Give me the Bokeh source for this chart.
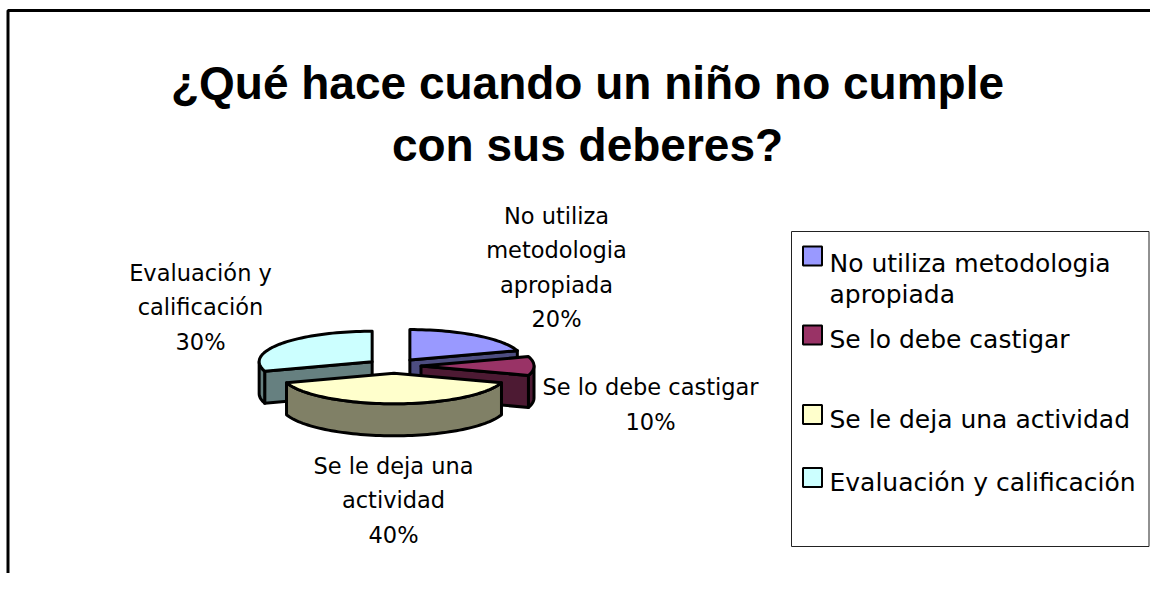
import numpy as np
from bokeh.plotting import figure
from bokeh.models import Range1d
from bokeh.core.properties import value
from bokeh.embed import file_html
from bokeh.resources import INLINE

# ---------------- data ----------------
title_lines = ["¿Qué hace cuando un niño no cumple", "con sus deberes?"]
categories = ["No utiliza metodologia apropiada", "Se lo debe castigar",
              "Se le deja una actividad", "Evaluación y calificación"]
values = [20, 10, 40, 30]
label_lines = [["No utiliza", "metodologia", "apropiada"],
               ["Se lo debe castigar"],
               ["Se le deja una", "actividad"],
               ["Evaluación y", "calificación"]]
legend_lines = [["No utiliza metodologia", "apropiada"],
                ["Se lo debe castigar"],
                ["Se le deja una actividad"],
                ["Evaluación y calificación"]]

# ---------------- styles / layout ----------------
top_colors = ["#9999FF", "#993366", "#FFFFCC", "#CCFFFF"]
side_colors = ["#4D4D80", "#4D1A33", "#808066", "#668080"]

W, H = 1150, 573
X0, Y0 = 1, 1
# pie geometry (pixels)
CX, CY = 394.5, 366.5
R, RY, DEPTH, EXPLODE = 113.0, 30.5, 32.0, 27.0
K = RY / R

# label anchors: (center x, first baseline, line spacing)
label_pos = [(557, 216, 34.5), (651, 387, 35), (394, 466, 34.5), (201, 273, 34.5)]
legend_box = (792, 232, 1149.5, 547)
legend_sq_y = [256.5, 335.5, 415, 478]
legend_text_y = [263.5, 339.5, 420, 483]
legend_line_h = 31.5

p = figure(width=W, height=H, output_backend="svg", toolbar_location=None,
           x_axis_type=None, y_axis_type=None,
           x_range=Range1d(X0, X0 + W), y_range=Range1d(Y0 + H, Y0),
           min_border=0, outline_line_color=None, background_fill_color="white",
           border_fill_color="white")

# frame (top and left edges of the chart area)
p.line(x=[8.5, 8.5, 1200], y=[620, 11, 11], line_color="black", line_width=3)

# title
p.text(x=[588, 588], y=[83, 145], text=title_lines,
       text_font=value("Liberation Sans"), text_font_style="bold",
       text_font_size="46px", text_align="center", text_baseline="alphabetic",
       text_color="black")


def proj(X, Z, lvl):
    X = np.asarray(X, dtype=float)
    Z = np.asarray(Z, dtype=float)
    lvl = np.asarray(lvl, dtype=float)
    return list(CX + X), list(CY - K * Z + DEPTH * lvl)


total = float(sum(values))
angles = np.concatenate([[0.0], np.cumsum(values)]) / total * 2 * np.pi
mids = (angles[:-1] + angles[1:]) / 2
order = sorted(range(len(values)), key=lambda i: -np.cos(mids[i]))

for i in order:
    t1, t2 = angles[i], angles[i + 1]
    mid = mids[i]
    ox, oz = EXPLODE * np.sin(mid), EXPLODE * np.cos(mid)
    xs_l, ys_l, cols = [], [], []
    # radial cut faces
    for t, vis in ((t1, np.sin(t1) < -1e-9), (t2, np.sin(t2) > 1e-9)):
        if vis:
            rx, rz = ox + R * np.sin(t), oz + R * np.cos(t)
            xs, ys = proj([ox, rx, rx, ox], [oz, rz, rz, oz], [0, 0, 1, 1])
            xs_l.append(xs); ys_l.append(ys); cols.append(side_colors[i])
    # outer curved side (front-facing part)
    a, b = max(t1, np.pi / 2), min(t2, 3 * np.pi / 2)
    if b > a:
        n = max(6, int(np.degrees(b - a) / 2))
        th = np.linspace(a, b, n)
        X = np.concatenate([ox + R * np.sin(th), ox + R * np.sin(th[::-1])])
        Z = np.concatenate([oz + R * np.cos(th), oz + R * np.cos(th[::-1])])
        L = np.concatenate([np.zeros(n), np.ones(n)])
        xs, ys = proj(X, Z, L)
        xs_l.append(xs); ys_l.append(ys); cols.append(side_colors[i])
    # top face
    n = max(6, int(np.degrees(t2 - t1) / 2))
    th = np.linspace(t1, t2, n)
    X = np.concatenate([[ox], ox + R * np.sin(th)])
    Z = np.concatenate([[oz], oz + R * np.cos(th)])
    xs, ys = proj(X, Z, np.zeros(len(X)))
    xs_l.append(xs); ys_l.append(ys); cols.append(top_colors[i])
    p.patches(xs_l, ys_l, fill_color=cols, line_color="black", line_width=3,
              line_join="round")

# data labels
lx, ly, lt = [], [], []
for i, lines in enumerate(label_lines):
    cxl, by, dy = label_pos[i]
    full = lines + [f"{round(100 * values[i] / total)}%"]
    for j, s in enumerate(full):
        lx.append(cxl); ly.append(by + j * dy); lt.append(s)
p.text(x=lx, y=ly, text=lt, text_font=value("DejaVu Sans"), text_font_size="22.5px",
       text_align="center", text_baseline="alphabetic", text_color="black")

# legend
l, t, r, bt = legend_box
p.quad(left=[l], right=[r], top=[t], bottom=[bt], fill_color="white",
       line_color="#222222", line_width=1)
p.rect(x=[813] * len(values), y=legend_sq_y, width=19, height=19,
       fill_color=top_colors, line_color="black", line_width=2)
gx, gy, gt = [], [], []
for i, lines in enumerate(legend_lines):
    for j, s in enumerate(lines):
        gx.append(830); gy.append(legend_text_y[i] + j * legend_line_h); gt.append(s)
p.text(x=gx, y=gy, text=gt, text_font=value("DejaVu Sans"), text_font_size="25px",
       text_align="left", text_baseline="alphabetic", text_color="black")

open("out.html", "w").write(file_html(p, INLINE))
